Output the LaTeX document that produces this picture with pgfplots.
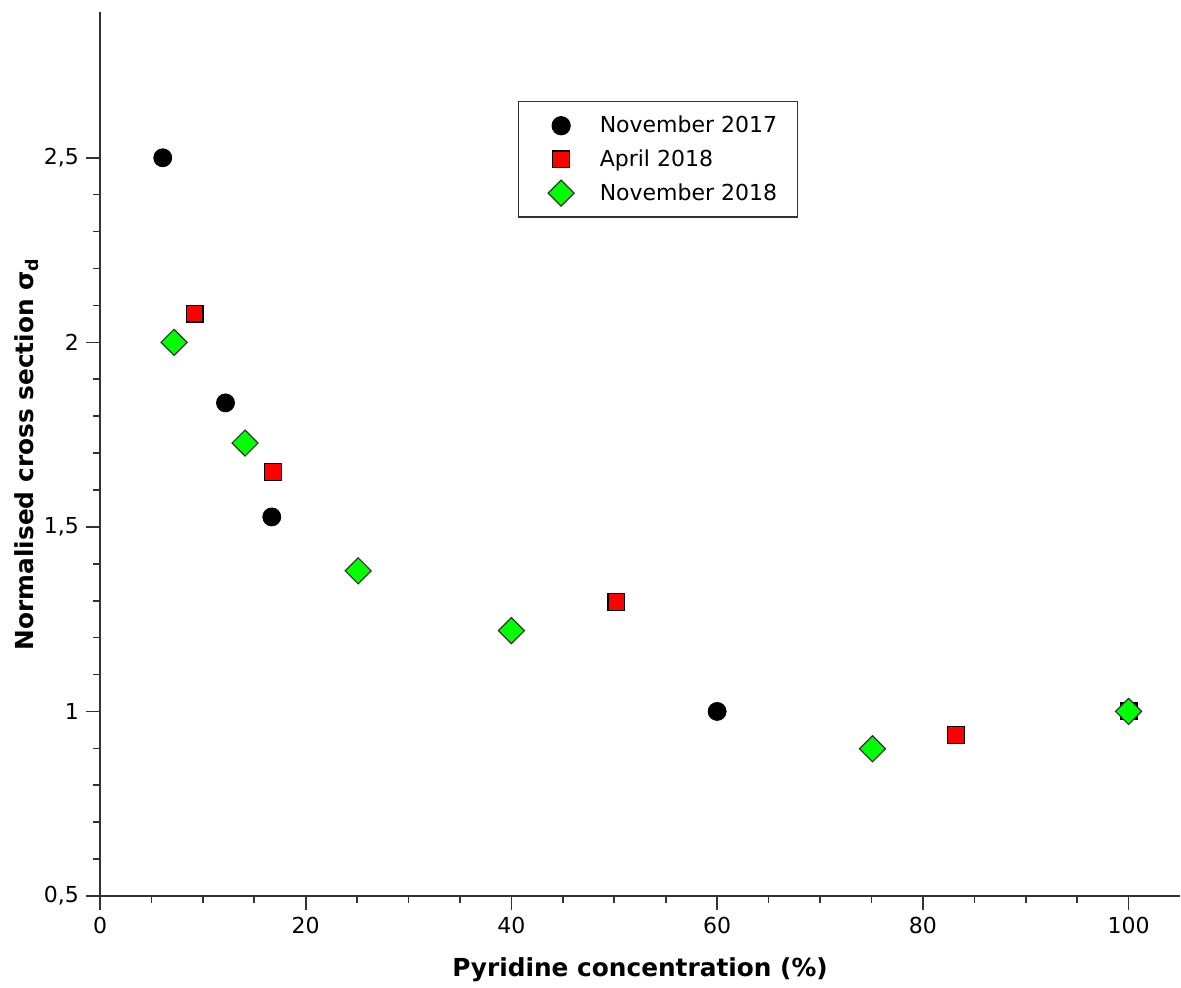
\documentclass[border=0pt]{standalone}
\usepackage{pgfplots}
\pgfplotsset{compat=1.18}
\usepackage{fontspec}
\setmainfont{DejaVu Sans}
\definecolor{axgray}{HTML}{333333}
\pgfplotsset{myleg/.style={legend image code/.code={\path (-13pt,0pt) (17pt,0pt); \draw[mark repeat=2,mark phase=2,##1] plot coordinates {(-0.3cm,0cm) (0cm,0cm) (0.3cm,0cm)};}}}
\begin{document}
\begin{tikzpicture}
\begin{axis}[
  scale only axis,
  width=540pt, height=442pt,
  xmin=0, xmax=105, ymin=0.5, ymax=2.895,
  axis x line*=bottom, axis y line*=left,
  axis line style={axgray, line width=0.8pt},
  every tick/.style={axgray, line width=0.8pt},
  tick align=outside,
  major tick length=7pt, minor tick length=3.5pt,
  xtick={0,20,40,60,80,100}, minor x tick num=3,
  ytick={0.5,1,1.5,2,2.5}, minor y tick num=4,
  /pgf/number format/use comma,
  /pgf/number format/assume math mode=true,
  tick label style={font=\fontsize{11}{13}\selectfont},
  xlabel={Pyridine concentration (\%)},
  ylabel={Normalised cross section σ\textsubscript{d}},
  label style={font=\fontsize{12.4}{14}\selectfont\bfseries},
  xlabel style={at={(axis description cs:0.5,-0.0837)}, anchor=center},
  ylabel style={at={(axis description cs:-0.0676,0.5)}, anchor=center},
  legend style={at={(0.387,0.899)}, anchor=north west, draw=axgray, line width=0.6pt,
    font=\fontsize{11}{13}\selectfont, row sep=3pt, inner xsep=8pt, inner ysep=5pt},
  legend cell align=left,
  clip=false,
]
\addplot[only marks, mark=*, mark size=4.5pt, black, myleg] coordinates {
 (6.1,2.5) (12.2,1.836) (16.7,1.527) (60,1.0)};
\addlegendentry{November 2017}
\addplot[only marks, mark=square*, mark size=4.2pt, draw=black, fill=red, mark options={line width=0.6pt}, myleg] coordinates {
 (9.2,2.078) (16.8,1.649) (50.2,1.297) (83.2,0.936) (100,1.0)};
\addlegendentry{April 2018}
\addplot[only marks, mark=square*, mark size=4.6pt, draw=black!80, fill=green, mark options={rotate=45, line width=0.6pt}, myleg] coordinates {
 (7.2,2.0) (14.1,1.727) (25.1,1.381) (40,1.219) (75.1,0.899) (100,1.0)};
\addlegendentry{November 2018}
\end{axis}
\pgfresetboundingbox
\path ([shift={(-50pt,-46pt)}]current axis.south west) rectangle ([shift={(0.5pt,6pt)}]current axis.north east);
\end{tikzpicture}
\end{document}
